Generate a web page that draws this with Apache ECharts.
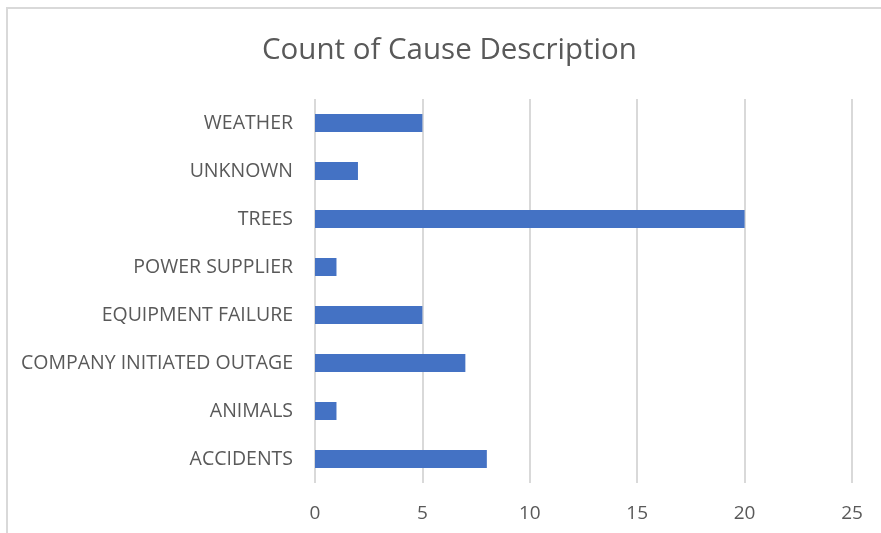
<!DOCTYPE html>
<html>
<head>
<meta charset="utf-8">
<script src="https://cdn.jsdelivr.net/npm/echarts@6/dist/echarts.min.js"></script>
<style>
  html, body { margin: 0; padding: 0; background: #fff; }
  #chart { width: 881px; height: 533px; }
</style>
</head>
<body>
<div id="chart"></div>
<script>
  // data (bottom to top, as the axis draws them)
  var causes = ['ACCIDENTS', 'ANIMALS', 'COMPANY INITIATED OUTAGE', 'EQUIPMENT FAILURE',
                'POWER SUPPLIER', 'TREES', 'UNKNOWN', 'WEATHER'];
  var counts = [8, 1, 7, 5, 1, 20, 2, 5];
  var xTicks = [0, 5, 10, 15, 20, 25];

  var chart = echarts.init(document.getElementById('chart'));
  chart.setOption({
    animation: false,
    textStyle: { fontFamily: 'Open Sans' },
    title: {
      text: 'Count of Cause Description',
      left: 257,
      top: 31,
      textStyle: { fontSize: 29.5, fontWeight: 'normal', color: '#595959', fontFamily: 'Open Sans' }
    },
    graphic: [{
      type: 'rect',
      shape: { x: 7, y: 8, width: 900, height: 600 },
      style: { fill: 'none', stroke: '#d9d9d9', lineWidth: 2 },
      silent: true
    }],
    grid: { left: 315, right: 29, top: 99, bottom: 50, containLabel: false },
    xAxis: {
      type: 'value',
      min: xTicks[0],
      max: xTicks[xTicks.length - 1],
      interval: 5,
      axisLine: { show: false },
      axisTick: { show: false },
      splitLine: { lineStyle: { color: '#d9d9d9', width: 2 } },
      axisLabel: { color: '#595959', fontSize: 19, margin: 21 }
    },
    yAxis: {
      type: 'category',
      data: causes,
      axisLine: { show: false },
      axisTick: { show: false },
      axisLabel: { color: '#595959', fontSize: 19.5, margin: 22 }
    },
    series: [{
      type: 'bar',
      data: counts,
      barWidth: 18,
      itemStyle: { color: '#4472C4' }
    }]
  });
</script>
</body>
</html>
